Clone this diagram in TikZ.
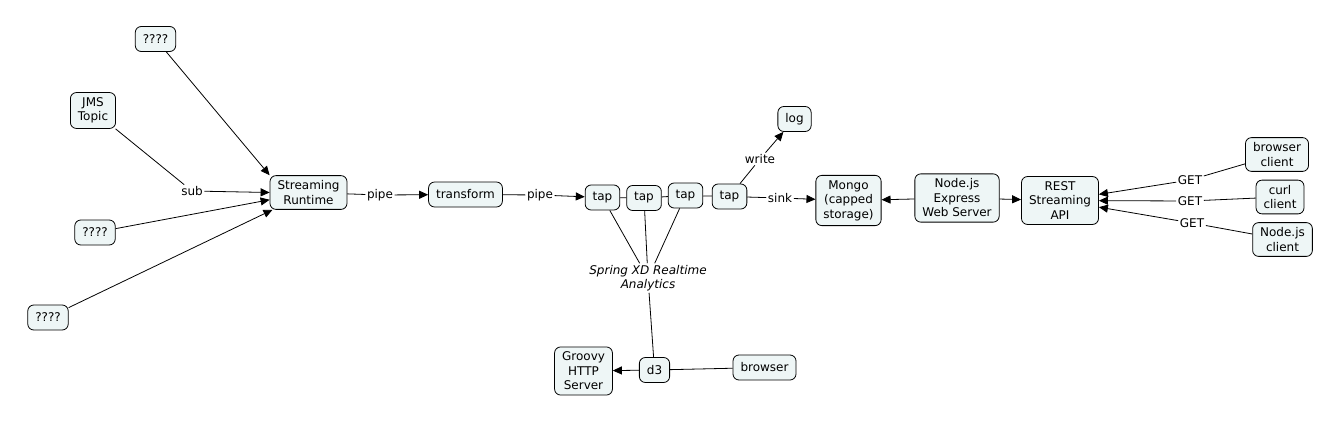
\documentclass[tikz,border=0pt]{standalone}
\usepackage{fontspec}
\setmainfont{DejaVu Sans}
\usepackage{tikz}
\usetikzlibrary{arrows.meta}
\definecolor{cmapfill}{RGB}{238,246,246}

\begin{document}
\begin{tikzpicture}[
    x=1pt, y=-1pt,
    box/.style={rectangle, draw=black, fill=cmapfill, align=center,
                inner xsep=7.5pt, inner ysep=5pt, minimum height=25pt,
                font=\fontsize{12}{14.5}\selectfont, rounded corners=6pt,
                line width=0.8pt},
    lbl/.style={fill=white, inner sep=1.5pt, align=center,
                font=\fontsize{12}{14.5}\selectfont},
    link/.style={draw=black, line width=0.8pt},
    arr/.style={link, -{Triangle[length=9pt, width=8pt]}}
]
\useasboundingbox (0,0) rectangle (1321,420);

\node[box] (q1)      at (155.5,39)  {????};
\node[box] (jms)     at (93,110.5)  {JMS\\Topic};
\node[box] (q2)      at (95,232.5)  {????};
\node[box] (q3)      at (48,317.5)  {????};
\node[box] (runtime) at (308.5,192.5) {Streaming\\Runtime};
\node[box] (transform) at (465.5,194.5) {transform};
\node[box] (tap1)    at (602.5,197.5) {tap};
\node[box] (tap2)    at (644,198)   {tap};
\node[box] (tap3)    at (685.5,195.5) {tap};
\node[box] (tap4)    at (729.5,196.5) {tap};
\node[box] (log)     at (794.5,119) {log};
\node[box] (mongo)   at (848.5,200.5) {Mongo\\(capped\\storage)};
\node[box] (express) at (957,198)   {Node.js\\Express\\Web Server};
\node[box] (rest)    at (1060,200.5) {REST\\Streaming\\API};
\node[box] (browserc) at (1277,154.5) {browser\\client};
\node[box] (curlc)   at (1280,197)  {curl\\client};
\node[box] (nodec)   at (1282.5,239.5) {Node.js\\client};
\node[box] (groovy)  at (583.5,371) {Groovy\\HTTP\\Server};
\node[box] (d3)      at (654.5,370) {d3};
\node[box] (browser) at (764.5,367.5) {browser};

% linking phrases
\node[lbl] (sub)   at (192,191) {sub};
\node[lbl] (pipe1) at (380,195) {pipe};
\node[lbl] (pipe2) at (540,195) {pipe};
\node[lbl] (write) at (760,159) {write};
\node[lbl] (sink)  at (780,198) {sink};
\node[lbl] (get1)  at (1190,180) {GET};
\node[lbl] (get2)  at (1190,201) {GET};
\node[lbl] (get3)  at (1192,223) {GET};
\node[lbl, font=\fontsize{12}{14.5}\selectfont\itshape] (analytics) at (648,278)
    {Spring XD Realtime\\Analytics};

\draw[arr] (q1) -- (runtime.north west);
\draw[link] (jms) -- (sub);
\draw[arr] (sub) -- (runtime.west);
\draw[arr] (q2) -- (runtime);
\draw[arr] (q3) -- (runtime);
\draw[link] (runtime) -- (pipe1);
\draw[arr] (pipe1) -- (transform);
\draw[link] (transform) -- (pipe2);
\draw[arr] (pipe2) -- (tap1);
\draw[link] (tap1) -- (tap2);
\draw[link] (tap2) -- (tap3);
\draw[link] (tap3) -- (tap4);
\draw[link] (tap4) -- (write);
\draw[arr] (write) -- (log);
\draw[link] (tap4) -- (sink);
\draw[arr] (sink) -- (mongo);
\draw[arr] (express) -- (mongo);
\draw[arr] (express) -- (rest);
\draw[link] (browserc) -- (get1);
\draw[arr] (get1) -- (rest);
\draw[link] (curlc) -- (get2);
\draw[arr] (get2) -- (rest);
\draw[link] (nodec) -- (get3);
\draw[arr] (get3) -- (rest);
\draw[link] (tap1) -- (analytics);
\draw[link] (tap2) -- (analytics);
\draw[link] (tap3) -- (analytics);
\draw[link] (analytics) -- (d3);
\draw[arr] (d3) -- (groovy);
\draw[link] (browser) -- (d3);
\end{tikzpicture}
\end{document}
